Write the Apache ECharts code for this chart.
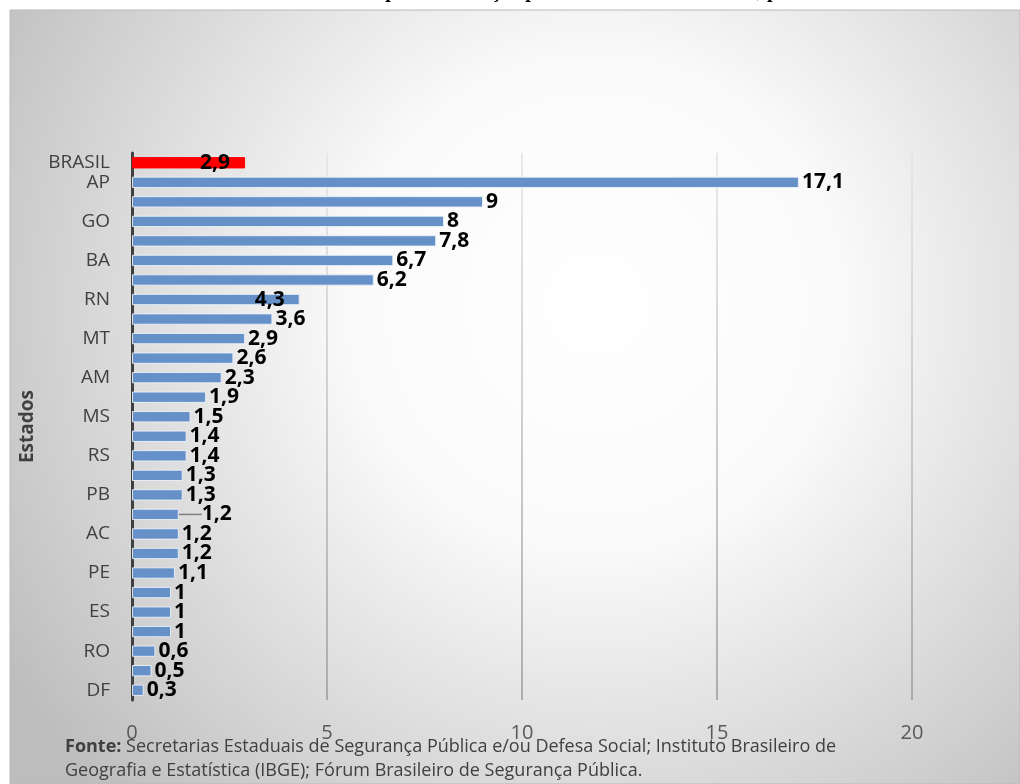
<!DOCTYPE html>
<html>
<head>
<meta charset="utf-8">
<script src="https://cdn.jsdelivr.net/npm/echarts@6/dist/echarts.min.js"></script>
<style>
html,body{margin:0;padding:0;background:#fff;}
#chart{width:1020px;height:784px;}
</style>
</head>
<body>
<div id="chart"></div>
<script>
// ---- data ----
const categories = ['BRASIL','AP','SE','GO','RJ','BA','PA','RN','PR','MT','TO','AM','CE','MS','SP','RS','AL','PB','PI','AC','MA','PE','SC','ES','MG','RO','RR','DF'];
const values = [2.9,17.1,9,8,7.8,6.7,6.2,4.3,3.6,2.9,2.6,2.3,1.9,1.5,1.4,1.4,1.3,1.3,1.2,1.2,1.2,1.1,1,1,1,0.6,0.5,0.3];
const xTickValues = [0,5,10,15,20];
const highlightCategory = 'BRASIL';
const axisTitle = 'Estados';
const chartTitle = 'Taxa de mortes por intervenção policial no Brasil e nas UFs, por 100 mil habitantes';
const sourceNote = 'Secretarias Estaduais de Segurança Pública e/ou Defesa Social; Instituto Brasileiro de\nGeografia e Estatística (IBGE); Fórum Brasileiro de Segurança Pública.';

// ---- styling ----
const FONT = '"Open Sans", "Noto Sans", sans-serif';
const BLUE = '#6590c8';
const RED = '#ff0000';
const insideLabelCats = ['BRASIL','RN'];
const leaderIndex = 18;

const fmt = v => String(v).replace('.', ',');

const seriesData = values.map((v, i) => {
  const item = { value: v };
  if (categories[i] === highlightCategory) item.itemStyle = { color: RED, borderColor: RED };
  if (insideLabelCats.indexOf(categories[i]) >= 0) {
    item.label = { position: 'insideRight', distance: 15 };
  }
  if (i === leaderIndex) {
    item.labelLine = { show: true, lineStyle: { color: '#7f7f7f', width: 1.5 } };
  }
  return item;
});

const chart = echarts.init(document.getElementById('chart'), null, { renderer: 'canvas' });
chart.setOption({
  backgroundColor: '#ffffff',
  animation: false,
  graphic: [
    {
      type: 'rect', z: -100, silent: true,
      shape: { x: 10, y: 10, width: 1010, height: 774 },
      style: {
        fill: { type: 'radial', x: 0.58, y: 0.38, r: 0.9,
          colorStops: [
            { offset: 0, color: '#ffffff' },
            { offset: 0.35, color: '#fafafa' },
            { offset: 1, color: '#bdbdbd' }
          ] },
        stroke: '#b9b9b9', lineWidth: 1
      }
    },
    {
      type: 'text', z: 10, silent: true,
      style: {
        x: 250, y: -8, text: chartTitle,
        font: 'bold 20px "Liberation Serif", serif',
        fill: '#000', textVerticalAlign: 'middle', verticalAlign: 'middle'
      }
    },
    {
      type: 'text', z: 10, silent: true,
      style: {
        x: 65, y: 735,
        text: '{b|Fonte:} ' + sourceNote,
        fontFamily: FONT, fontSize: 18, lineHeight: 24,
        fill: '#404040',
        rich: { b: { fontWeight: 'bold', fontFamily: FONT, fontSize: 18, fill: '#404040' } }
      }
    }
  ],
  grid: { left: 132, right: 108, top: 153, bottom: 84, containLabel: false },
  xAxis: {
    type: 'value',
    min: xTickValues[0],
    max: xTickValues[xTickValues.length - 1],
    interval: xTickValues[1] - xTickValues[0],
    axisLine: { show: false },
    axisTick: { show: false },
    axisLabel: { color: '#595959', fontFamily: FONT, fontSize: 20, margin: 23 },
    splitLine: {
      show: true,
      lineStyle: {
        width: 1.5,
        color: { type: 'linear', x: 0, y: 153, x2: 0, y2: 700, global: true,
          colorStops: [ { offset: 0, color: '#e4e4e4' }, { offset: 1, color: '#9a9a9a' } ] }
      }
    }
  },
  yAxis: {
    type: 'category',
    data: categories,
    inverse: true,
    name: axisTitle,
    nameLocation: 'middle',
    nameGap: 92,
    nameTextStyle: { color: '#404040', fontFamily: FONT, fontSize: 19, fontWeight: 'bold' },
    axisLine: { show: true, lineStyle: { color: '#404040', width: 3 } },
    axisTick: { show: false },
    axisLabel: {
      color: '#404040', fontFamily: FONT, fontSize: 19, margin: 22,
      interval: (index) => index === 0 || index % 2 === 1
    },
    splitLine: { show: false }
  },
  series: [{
    type: 'bar',
    data: seriesData,
    barWidth: '58%',
    itemStyle: { color: BLUE, borderColor: 'rgba(235,242,250,0.9)', borderWidth: 1 },
    label: {
      show: true,
      position: 'right',
      distance: 3,
      offset: [0, 4],
      color: '#000',
      fontFamily: FONT,
      fontSize: 21,
      fontWeight: 'bold',
      formatter: p => fmt(p.value)
    },
    labelLayout: function (params) {
      if (params.dataIndex === leaderIndex) return { dx: 20 };
      return {};
    }
  }]
});
</script>
</body>
</html>
